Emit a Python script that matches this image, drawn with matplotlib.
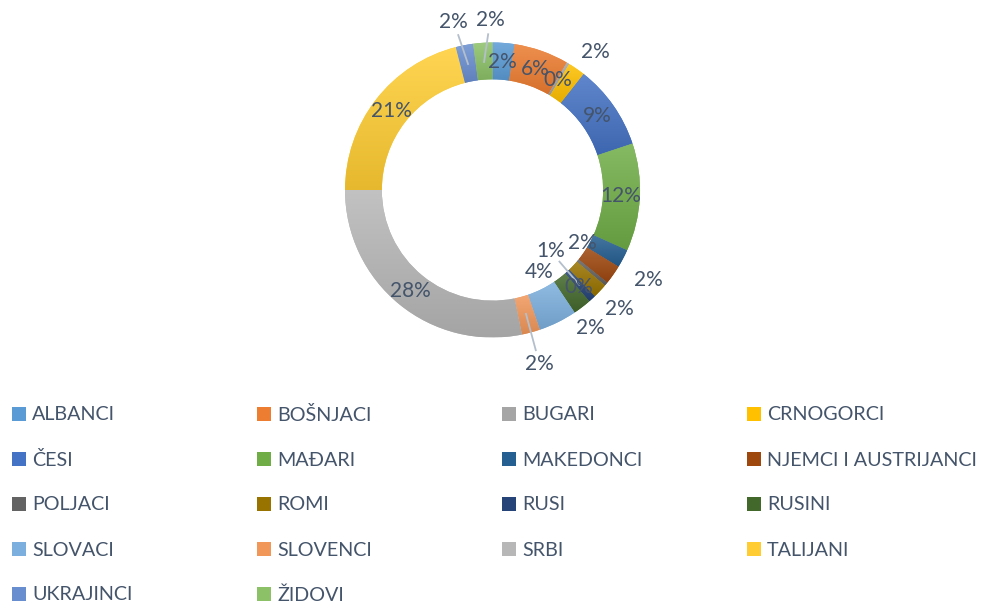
import numpy as np
import matplotlib.pyplot as plt
from matplotlib.patches import Rectangle
from matplotlib.colors import to_rgb

# podaci (udio u %)
names = ["ALBANCI", "BOŠNJACI", "BUGARI", "CRNOGORCI", "ČESI", "MAĐARI",
         "MAKEDONCI", "NJEMCI I AUSTRIJANCI", "POLJACI", "ROMI", "RUSI",
         "RUSINI", "SLOVACI", "SLOVENCI", "SRBI", "TALIJANI", "UKRAJINCI",
         "ŽIDOVI"]
values = [2.4, 6.0, 0.3, 1.9, 9.3, 11.8, 2.0, 2.1, 0.4, 1.6, 0.8, 2.0,
          4.2, 2.0, 28.2, 21.0, 1.9, 2.1]
colors = ["#5B9BD5", "#ED7D31", "#A5A5A5", "#FFC000", "#4472C4", "#70AD47",
          "#255E91", "#9E480E", "#636363", "#997300", "#264478", "#43682B",
          "#7CAFDD", "#F1975A", "#B7B7B7", "#FFCD33", "#698ED0", "#8CC168"]

# raspored oznaka (radijus u jedinicama R, pomak kuta u stupnjevima)
label_r = [0.87, 0.87, 0.87, 1.17, 0.87, 0.87, 0.71, 1.22, 0.88, 1.18,
           0.57, 1.15, 0.64, 1.22, 0.88, 0.87, 1.17, 1.15]
label_shift = [0, 0, 0, 2, 0, 0, 3, -5, 9, 0, -1, 2, -3, 0, 0, 0, -2, 3]
leaders = {"RUSI", "SLOVENCI", "UKRAJINCI", "ŽIDOVI"}

TXT = "#44546A"
FONT = "Lato"

W, H = 987, 608
fig = plt.figure(figsize=(W / 100, H / 100), dpi=100)
ax = fig.add_axes([0, 0, 1, 1])

cx, cy, R = 492.5, H - 190, 147.5
wedges, _ = ax.pie(values, colors=colors, radius=R, center=(cx, cy),
                   startangle=90, counterclock=False,
                   wedgeprops=dict(width=R * 0.25, linewidth=0))

# blagi gradijent kao u Excelu
grad = np.linspace(0, 1, 64).reshape(-1, 1, 1)
for w, c in zip(wedges, colors):
    rgb = np.array(to_rgb(c))
    top = rgb + (1 - rgb) * 0.15
    bot = rgb * 0.9
    img = top + (bot - top) * grad
    ext = w.get_path().get_extents()
    im = ax.imshow(img, extent=(ext.x0, ext.x1, ext.y0, ext.y1),
                   origin="upper", aspect="auto", interpolation="bilinear",
                   zorder=w.get_zorder())
    im.set_clip_path(w)

total = sum(values)
for w, n, v, r, s in zip(wedges, names, values, label_r, label_shift):
    mid = np.deg2rad((w.theta1 + w.theta2) / 2)
    a = mid - np.deg2rad(s)
    px, py = cx + r * R * np.cos(a), cy + r * R * np.sin(a)
    ax.text(px, py, f"{round(v / total * 100)}%", ha="center", va="center",
            fontsize=15, color=TXT, family=FONT, zorder=5)
    if n in leaders:
        qx, qy = cx + 0.87 * R * np.cos(mid), cy + 0.87 * R * np.sin(mid)
        d = np.array([qx - px, qy - py])
        d = d / np.hypot(*d)
        ax.plot([px + d[0] * 14, qx], [py + d[1] * 14, qy],
                color="#B4BFCC", lw=1.3, zorder=4)

# legenda
for i, (n, c) in enumerate(zip(names, colors)):
    col, row = i % 4, i // 4
    x = 12 + col * 245
    y = 194 - row * 45
    ax.add_patch(Rectangle((x, y - 7), 14, 14, facecolor=c, lw=0))
    ax.text(x + 20, y - 1, n, va="center", ha="left", fontsize=14.2,
            color=TXT, family=FONT)

ax.set_xlim(0, W)
ax.set_ylim(0, H)
ax.axis("off")

plt.savefig("out.png", dpi=100)
